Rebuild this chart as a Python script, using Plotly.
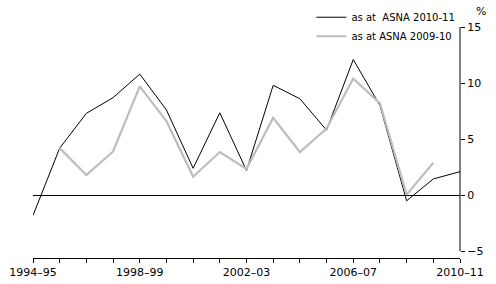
import plotly.graph_objects as go

years = ["1994–95", "1995–96", "1996–97", "1997–98", "1998–99", "1999–00", "2000–01",
         "2001–02", "2002–03", "2003–04", "2004–05", "2005–06", "2006–07", "2007–08",
         "2008–09", "2009–10", "2010–11"]
asna_2010_11 = [-1.8, 4.2, 7.3, 8.7, 10.8, 7.6, 2.4, 7.35, 2.2, 9.8, 8.6, 5.8, 12.1, 8.0, -0.5, 1.45, 2.1]
asna_2009_10 = [None, 4.2, 1.8, 3.9, 9.7, 6.6, 1.65, 3.85, 2.35, 6.9, 3.85, 5.95, 10.4, 8.2, 0.05, 2.9, None]
tick_labels = ["1994–95", "", "", "", "1998–99", "", "", "", "2002–03", "", "", "", "2006–07", "", "", "", "2010–11"]
y_ticks = [-5, 0, 5, 10, 15]

font_family = "DejaVu Sans"
x_idx = list(range(len(years)))

fig = go.Figure()
fig.add_trace(go.Scatter(x=x_idx, y=asna_2010_11, mode="lines", name="as at\u00a0 ASNA 2010-11",
                         line=dict(color="black", width=1)))
fig.add_trace(go.Scatter(x=x_idx, y=asna_2009_10, mode="lines", name="as at ASNA 2009-10",
                         line=dict(color="#bdbdbd", width=2.2)))

fig.update_layout(
    width=496, height=284,
    margin=dict(l=33, r=36, t=27, b=26, autoexpand=False),
    paper_bgcolor="white", plot_bgcolor="white",
    font=dict(family=font_family, size=11, color="black"),
    showlegend=True,
    legend=dict(x=0.652, y=1.105, xanchor="left", yanchor="top", bgcolor="rgba(0,0,0,0)",
                font=dict(size=10), itemwidth=30, tracegroupgap=0),
    xaxis=dict(range=[0, 16], tickmode="array", tickvals=x_idx, ticktext=tick_labels,
               showline=True, linecolor="black", linewidth=1, ticks="outside", ticklen=4,
               tickcolor="black", showgrid=False, zeroline=False, tickangle=0),
    yaxis=dict(range=[-5.6, 15], side="right", tickmode="array", tickvals=y_ticks,
               ticks="outside", ticklen=4, tickcolor="black", showline=False,
               showgrid=False, zeroline=True, zerolinecolor="black", zerolinewidth=1),
)
fig.add_shape(type="line", xref="paper", yref="y", x0=1, x1=1, y0=-5, y1=15,
              line=dict(color="black", width=1))
fig.add_annotation(text="%", xref="paper", yref="paper", x=1.0, y=1.0, xanchor="left",
                   yanchor="bottom", xshift=14, yshift=7, showarrow=False, font=dict(size=11))

fig.write_html("out.html")
